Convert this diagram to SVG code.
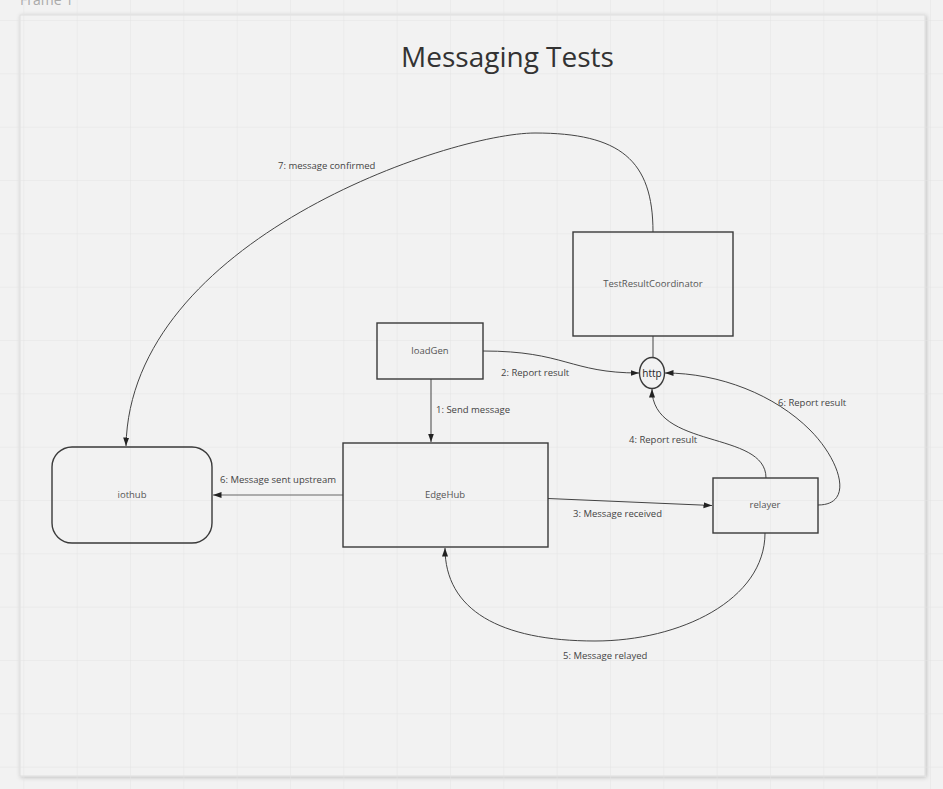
<svg xmlns="http://www.w3.org/2000/svg" width="943" height="789" viewBox="0 0 943 789">
  <defs>
    <pattern id="grid" patternUnits="userSpaceOnUse" x="23.33" y="20" width="53.333" height="53.333">
      <path d="M0,0 H53.333 M0,0 V53.333" fill="none" stroke="#e4e4e4" stroke-width="1"/>
    </pattern>
    <filter id="shadow" x="-5%" y="-5%" width="110%" height="110%">
      <feDropShadow dx="1" dy="1" stdDeviation="2" flood-color="#000" flood-opacity="0.22"/>
    </filter>
    <marker id="arrow" markerUnits="userSpaceOnUse" markerWidth="9" markerHeight="7" refX="8.5" refY="3" orient="auto">
      <path d="M0,0 L8.5,3 L0,6 z" fill="#222"/>
    </marker>
    <style>
      .node { fill: none; stroke: #3a3a3a; stroke-width: 1.4; }
      .lbl { font-family: "Open Sans", "Liberation Sans", sans-serif; font-size: 9.5px; fill: #444; }
      .nlbl { font-family: "Open Sans", "Liberation Sans", sans-serif; font-size: 9.5px; fill: #555; text-anchor: middle; }
      .conn path, .conn line { fill: none; stroke: #444; stroke-width: 1; }
      .arr { marker-end: url(#arrow); }
    </style>
  </defs>

  <rect x="0" y="0" width="943" height="789" fill="#f2f2f2"/>

  <text x="20" y="5" font-family="Open Sans, Liberation Sans, sans-serif" font-size="14" fill="#aaaaaa">Frame 1</text>

  <g id="frame">
    <rect x="20" y="15" width="905" height="761" fill="#f2f2f2" stroke="#dedede" stroke-width="1" filter="url(#shadow)"/>
  </g>

  <rect x="0" y="0" width="943" height="789" fill="url(#grid)"/>

  <text id="title" x="507.5" y="67" font-family="Open Sans, Liberation Sans, sans-serif" font-size="28" fill="#333" text-anchor="middle">Messaging Tests</text>

  <g id="connectors" class="conn">
    <!-- 1: loadGen -> EdgeHub -->
    <line class="arr" x1="431" y1="379" x2="431" y2="442"/>
    <!-- 2: loadGen -> http -->
    <path class="arr" d="M483,351 C565,351 570,373 639,373"/>
    <!-- 3: EdgeHub -> relayer -->
    <line class="arr" x1="548" y1="498.5" x2="712" y2="505.5"/>
    <!-- 4: relayer -> http -->
    <path class="arr" d="M766,478 C766,430 652,450 652,389"/>
    <!-- 5: relayer -> EdgeHub -->
    <path class="arr" d="M765,533 C765,600 680,641 595,641 C500,641 445,610 445,548"/>
    <!-- 6: relayer -> http -->
    <path class="arr" d="M818,505 C855,505 840,460 810,430 C775,395 720,373 665,373"/>
    <!-- 6: EdgeHub -> iothub -->
    <line class="arr" x1="343" y1="495" x2="213" y2="495" style="stroke:#666"/>
    <!-- 7: TRC -> iothub -->
    <path class="arr" d="M653,232 C653,160 620,133 535,133 C450,133 130,240 126,446"/>
    <!-- TRC - http -->
    <line x1="653" y1="336" x2="653" y2="357.5"/>
  </g>

  <g id="connector-labels">
    <text class="lbl" x="436" y="413">1: Send message</text>
    <text class="lbl" x="501" y="376">2: Report result</text>
    <text class="lbl" x="573" y="517">3: Message received</text>
    <text class="lbl" x="629" y="443">4: Report result</text>
    <text class="lbl" x="563" y="659">5: Message relayed</text>
    <text class="lbl" x="778" y="406">6: Report result</text>
    <text class="lbl" x="220" y="483">6: Message sent upstream</text>
    <text class="lbl" x="278" y="169">7: message confirmed</text>
  </g>

  <g id="node-trc">
    <rect class="node" x="573" y="232" width="160" height="104"/>
    <text class="nlbl" x="653" y="287">TestResultCoordinator</text>
  </g>

  <g id="node-loadgen">
    <rect class="node" x="377" y="323" width="106" height="56"/>
    <text class="nlbl" x="430" y="354">loadGen</text>
  </g>

  <g id="node-http">
    <ellipse class="node" cx="652" cy="373" rx="12.5" ry="15.5"/>
    <text class="nlbl" x="652" y="376.5" style="font-size:10px;fill:#222">http</text>
  </g>

  <g id="node-edgehub">
    <rect class="node" x="343" y="443" width="205" height="104"/>
    <text class="nlbl" x="445" y="498">EdgeHub</text>
  </g>

  <g id="node-iothub">
    <rect class="node" x="52" y="447" width="160" height="96" rx="20" ry="20"/>
    <text class="nlbl" x="132" y="498">iothub</text>
  </g>

  <g id="node-relayer">
    <rect class="node" x="713" y="478" width="105" height="55"/>
    <text class="nlbl" x="765" y="508">relayer</text>
  </g>
</svg>
